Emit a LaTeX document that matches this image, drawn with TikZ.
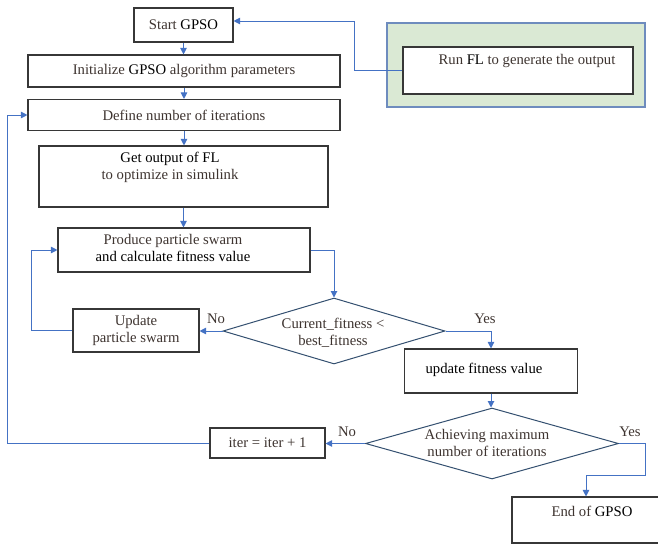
\documentclass[tikz,border=0pt]{standalone}
\usepackage{fontspec}
\setmainfont{Liberation Serif}
\usetikzlibrary{arrows.meta,shapes.geometric}
\definecolor{arrowblue}{RGB}{68,114,196}
\definecolor{boxgray}{RGB}{55,55,55}
\definecolor{dblue}{RGB}{52,80,112}
\definecolor{txt}{RGB}{62,52,48}
\definecolor{lgreen}{RGB}{218,233,212}
\definecolor{gborder}{RGB}{110,140,190}
\newcommand{\bk}[1]{\textcolor{black}{#1}}
\begin{document}
\begin{tikzpicture}[x=1pt,y=-1pt,
  box/.style={draw=boxgray,line width=1.1pt,fill=white,inner sep=0pt,text=txt,
    font=\fontsize{14.7}{17}\selectfont,align=center},
  dia/.style={draw=dblue,line width=1pt,diamond,inner sep=0pt,fill=white},
  conn/.style={draw=arrowblue,line width=1pt,-{Triangle[length=6.5pt,width=6.5pt]}},
  lbl/.style={text=txt,font=\fontsize{14.7}{17}\selectfont,inner sep=0pt,align=center}]
\useasboundingbox (0,0) rectangle (658,544);
% green group
\node[draw=gborder,line width=1.1pt,fill=lgreen,minimum width=258pt,minimum height=84pt,inner sep=0pt] (grp) at (516,65) {};
\node[draw=boxgray,line width=1.1pt,fill=white,minimum width=230pt,minimum height=47pt,inner sep=0pt] (run) at (518,70.5) {};
\node[lbl] (runtxt) at (527,61) {Run \bk{FL} to generate the output};
% main column
\node[box,minimum width=99pt,minimum height=34pt] (start) at (183.5,25) {Start \bk{GPSO}};
\node[box,minimum width=312pt,minimum height=32pt] (init) at (184,71) {Initialize \bk{GPSO} algorithm parameters};
\node[box,minimum width=312pt,minimum height=31pt] (define) at (184,115) {Define number of iterations};
\node[box,minimum width=289pt,minimum height=61pt] (get) at (183.5,176.5) {};
\node[lbl] (gettxt) at (170,167) {\bk{Get output of FL}\\to optimize in simulink};
\node[box,minimum width=252pt,minimum height=44pt] (prod) at (184,250) {};
\node[lbl] (prodtxt) at (173,248) {Produce particle swarm\\\bk{and calculate fitness value}};
\node[dia,minimum width=222pt,minimum height=66pt] (d1) at (334,331) {};
\node[lbl] (d1txt) at (333,333) {Current\_fitness <\\best\_fitness};
\node[box,minimum width=126pt,minimum height=43pt] (upd) at (136,330.5) {Update\\particle swarm};
\node[box,minimum width=173pt,minimum height=44pt] (ufit) at (491,371) {};
\node[lbl] (ufittxt) at (484,370) {\bk{update fitness value}};
\node[dia,minimum width=253pt,minimum height=71pt] (d2) at (492,443.5) {};
\node[lbl] (d2txt) at (487,442.5) {Achieving maximum\\number of iterations};
\node[box,minimum width=115pt,minimum height=30pt] (iter) at (267.5,443) {iter = iter + 1};
\node[box,minimum width=148pt,minimum height=46pt] (endb) at (586,520) {};
\node[lbl] (endtxt) at (592,511) {End of \bk{GPSO}};
% labels
\node[lbl] (no1) at (216,319) {No};
\node[lbl] (yes1) at (485,319) {Yes};
\node[lbl] (no2) at (347,432) {No};
\node[lbl] (yes2) at (630,432) {Yes};
% connectors
\draw[conn] (start.south) -- (start.south |- init.north);
\draw[conn] (init.south) -- (init.south |- define.north);
\draw[conn] (define.south) -- (define.south |- get.north);
\draw[conn] (get.south) -- (get.south |- prod.north);
\draw[conn] (prod.east) -| (d1.north);
\draw[conn] (d1.west) -- (d1.west -| upd.east);
\draw[conn] (upd.west) -- ++(-41,0) |- (prod.west);
\draw[conn] (d1.east) -| (ufit.north);
\draw[conn] (ufit.south) -- (ufit.south |- d2.north);
\draw[conn] (d2.west) -- (d2.west -| iter.east);
\draw[conn] (iter.west) -- ++(-202,0) |- (define.west);
\draw[conn] (d2.east) -- ++(26,0) -- ++(0,32) -| (endb.north);
\draw[conn,line width=0.9pt] (run.west) -- ++(-48,0) |- ([yshift=4pt]start.east);
\end{tikzpicture}
\end{document}
